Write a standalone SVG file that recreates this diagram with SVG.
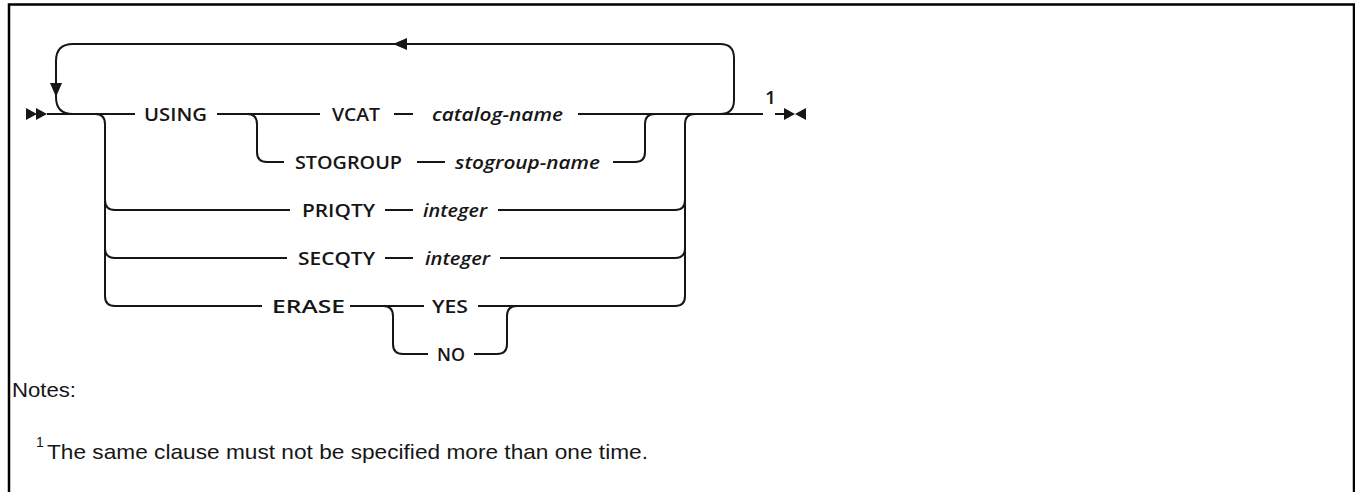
<svg xmlns="http://www.w3.org/2000/svg" width="1355" height="492" viewBox="0 0 1355 492">
<style>
.ln{fill:none;stroke:#161616;stroke-width:2;stroke-linecap:butt}
.ah{fill:#161616;stroke:none}
.kw{font-family:"Open Sans","Noto Sans","Liberation Sans",sans-serif;font-weight:600;font-size:18px;fill:#161616}
.var{font-family:"Open Sans","Noto Sans","Liberation Sans",sans-serif;font-weight:600;font-style:italic;font-size:18px;fill:#161616}
.note{font-family:"Liberation Sans","Noto Sans",sans-serif;font-size:21px;fill:#161616}
.sup{font-family:"Liberation Sans","Noto Sans",sans-serif;font-size:14px;fill:#161616}
</style>
<rect x="0" y="0" width="1355" height="492" fill="#ffffff"/>
<path d="M9,500 L9,4.5 L1354,4.5 L1354,500" fill="none" stroke="#000" stroke-width="2.5"/>
<g id="connectors">
<path class="ln" d="M47,114 L135,114"/>
<path class="ln" d="M217,114 L320,114"/>
<path class="ln" d="M394,114 L413,114"/>
<path class="ln" d="M578,114 L763,114"/>
<path class="ln" d="M775,114 L786,114"/>
<path class="ln" d="M720,114 Q734,114 734,100 L734,58 Q734,44 720,44 L73,44 Q56,44 56,61 L56,97 Q56,114 73,114"/>
<path class="ln" d="M247,114 Q257,114 257,124 L257,152 Q257,162 267,162 L284,162"/>
<path class="ln" d="M417,162 L445,162"/>
<path class="ln" d="M613,162 L635,162 Q645,162 645,152 L645,124 Q645,114 655,114"/>
<path class="ln" d="M95,114 Q105,114 105,124 L105,296 Q105,306 115,306 L262,306"/>
<path class="ln" d="M105,200 Q105,210 115,210 L290,210"/>
<path class="ln" d="M105,248 Q105,258 115,258 L287,258"/>
<path class="ln" d="M695,114 Q685,114 685,124 L685,296 Q685,306 675,306 L478,306"/>
<path class="ln" d="M498,210 L675,210 Q685,210 685,200"/>
<path class="ln" d="M500,258 L675,258 Q685,258 685,248"/>
<path class="ln" d="M385,210 L413,210"/>
<path class="ln" d="M385,258 L413,258"/>
<path class="ln" d="M350,306 L424,306"/>
<path class="ln" d="M383,306 Q393,306 393,316 L393,344 Q393,354 403,354 L428,354"/>
<path class="ln" d="M474,354 L497,354 Q507,354 507,344 L507,316 Q507,306 517,306"/>
<polygon class="ah" points="26,108 37,114 26,120"/>
<polygon class="ah" points="36,108 47,114 36,120"/>
<polygon class="ah" points="393,44 407,38 407,50"/>
<polygon class="ah" points="56,97 50,83 62,83"/>
<polygon class="ah" points="784,108 795,114 784,120"/>
<polygon class="ah" points="806,108 795,114 806,120"/>
</g>
<g id="using"><text class="kw" x="144" y="120.5" textLength="63" lengthAdjust="spacingAndGlyphs">USING</text></g>
<g id="vcat"><text class="kw" x="332" y="120.5" textLength="48" lengthAdjust="spacingAndGlyphs">VCAT</text></g>
<g id="catalog-name"><text class="var" x="432" y="120.5" textLength="131" lengthAdjust="spacingAndGlyphs">catalog-name</text></g>
<g id="footref"><text class="kw" x="765" y="104" textLength="11" lengthAdjust="spacingAndGlyphs">1</text></g>
<g id="stogroup"><text class="kw" x="295" y="168.5" textLength="107" lengthAdjust="spacingAndGlyphs">STOGROUP</text></g>
<g id="stogroup-name"><text class="var" x="455" y="168.5" textLength="145" lengthAdjust="spacingAndGlyphs">stogroup-name</text></g>
<g id="priqty"><text class="kw" x="302" y="216.5" textLength="73" lengthAdjust="spacingAndGlyphs">PRIQTY</text></g>
<g id="priqty-int"><text class="var" x="423" y="216.5" textLength="64" lengthAdjust="spacingAndGlyphs">integer</text></g>
<g id="secqty"><text class="kw" x="298" y="264.5" textLength="77" lengthAdjust="spacingAndGlyphs">SECQTY</text></g>
<g id="secqty-int"><text class="var" x="425" y="264.5" textLength="65" lengthAdjust="spacingAndGlyphs">integer</text></g>
<g id="erase"><text class="kw" x="272" y="312.5" textLength="73" lengthAdjust="spacingAndGlyphs">ERASE</text></g>
<g id="yes"><text class="kw" x="432" y="312.5" textLength="36" lengthAdjust="spacingAndGlyphs">YES</text></g>
<g id="no"><text class="kw" x="437" y="360.5" textLength="28" lengthAdjust="spacingAndGlyphs">NO</text></g>
<g id="notes">
<text class="note" x="12" y="397" textLength="64" lengthAdjust="spacingAndGlyphs">Notes:</text>
<text class="sup" x="36" y="447">1</text>
<text class="note" x="47" y="459" textLength="601" lengthAdjust="spacingAndGlyphs">The same clause must not be specified more than one time.</text>
</g>
</svg>
